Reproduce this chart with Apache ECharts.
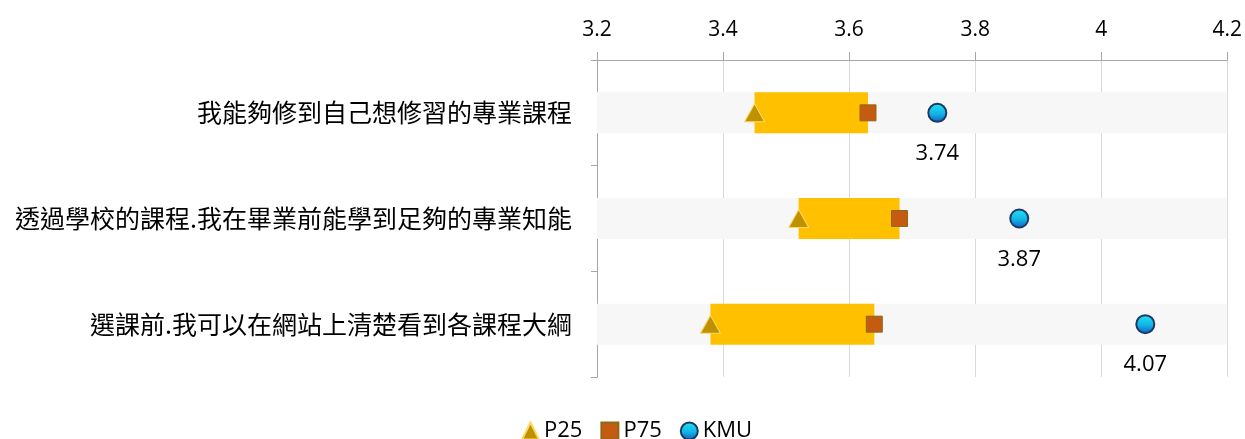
<!DOCTYPE html>
<html>
<head>
<meta charset="utf-8">
<script src="https://cdn.jsdelivr.net/npm/echarts@6/dist/echarts.min.js"></script>
<style>
html,body{margin:0;padding:0;background:#fff;}
#chart{width:1245px;height:439px;}
</style>
</head>
<body>
<div id="chart"></div>
<script>
var categories = ['我能夠修到自己想修習的專業課程', '透過學校的課程.我在畢業前能學到足夠的專業知能', '選課前.我可以在網站上清楚看到各課程大綱'];
var p25 = [3.45, 3.52, 3.38];
var p75 = [3.63, 3.68, 3.64];
var kmu = [3.74, 3.87, 4.07];
var xTicks = [3.2, 3.4, 3.6, 3.8, 4.0, 4.2];

var chart = echarts.init(document.getElementById('chart'));
var fontNum = '"Open Sans", "Liberation Sans", sans-serif';
var fontCJK = '"Noto Sans CJK TC", "Noto Sans CJK SC", sans-serif';
var kmuGrad = new echarts.graphic.LinearGradient(0, 0, 0, 1, [
  {offset: 0, color: '#22e6f2'},
  {offset: 0.55, color: '#12b4e6'},
  {offset: 1, color: '#0b5cc4'}
]);
var option = {
  animation: false,
  grid: {left: 597, right: 17, top: 60, bottom: 62},
  xAxis: {
    type: 'value', position: 'top', min: 3.2, max: 4.2, interval: 0.2,
    axisLine: {show: true, lineStyle: {color: '#a6a6a6'}},
    axisTick: {show: true, length: 8, lineStyle: {color: '#a6a6a6'}},
    splitLine: {show: true, lineStyle: {color: '#d9d9d9'}},
    axisLabel: {
      fontSize: 21, color: '#000', fontFamily: fontNum, margin: 19,
      formatter: function (v) { var r = Math.round(v * 10) / 10; return String(r); }
    }
  },
  yAxis: {
    type: 'category', data: categories, inverse: true,
    axisLine: {show: true, lineStyle: {color: '#a6a6a6'}},
    axisTick: {show: true, length: 6, lineStyle: {color: '#a6a6a6'}},
    axisLabel: {fontSize: 25, color: '#000', fontFamily: fontCJK, margin: 25}
  },
  legend: {
    bottom: -8, left: 516, itemGap: 18, itemWidth: 17, itemHeight: 17,
    textStyle: {fontSize: 22, color: '#000', fontFamily: fontNum},
    data: ['P25', 'P75', 'KMU']
  },
  series: [
    {
      name: 'base', type: 'bar', stack: 's', barWidth: 41,
      data: p25,
      itemStyle: {color: 'rgba(0,0,0,0)'},
      showBackground: true,
      backgroundStyle: {color: '#f7f7f7'},
      silent: true
    },
    {
      name: 'range', type: 'bar', stack: 's', barWidth: 41,
      data: p25.map(function (v, i) { return +(p75[i] - v).toFixed(4); }),
      itemStyle: {color: '#ffc000'},
      silent: true
    },
    {
      name: 'P25', type: 'scatter', symbol: 'triangle', symbolSize: [20, 18],
      data: p25.map(function (v, i) { return [v, i]; }),
      itemStyle: {color: '#bf9000', borderColor: '#ffd966', borderWidth: 1, opacity: 1},
      z: 5
    },
    {
      name: 'P75', type: 'scatter', symbol: 'rect', symbolSize: 16,
      data: p75.map(function (v, i) { return [v, i]; }),
      itemStyle: {color: '#c55a11', borderColor: '#8c6a1a', borderWidth: 1, opacity: 1},
      z: 5
    },
    {
      name: 'KMU', type: 'scatter', symbol: 'circle', symbolSize: 18,
      data: kmu.map(function (v, i) { return [v, i]; }),
      itemStyle: {color: kmuGrad, borderColor: '#1f3864', borderWidth: 2, opacity: 1},
      label: {
        show: true, position: 'bottom', distance: 20,
        fontSize: 22, color: '#000', fontFamily: fontNum,
        formatter: function (p) { return p.value[0].toFixed(2); }
      },
      z: 6
    }
  ]
};
chart.setOption(option);
</script>
</body>
</html>
